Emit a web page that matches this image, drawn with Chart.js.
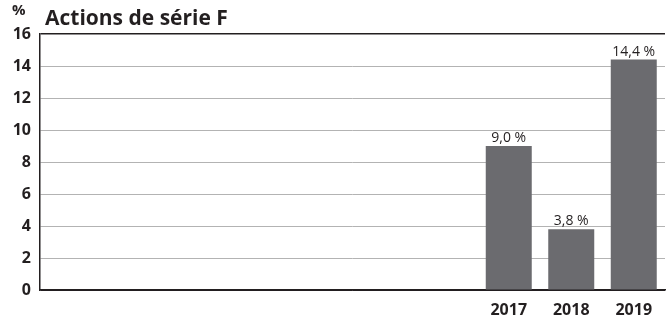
<!DOCTYPE html>
<html>
<head>
<meta charset="utf-8">
<script src="https://cdn.jsdelivr.net/npm/chart.js@4.4.0/dist/chart.umd.min.js"></script>
<style>
  html, body { margin: 0; padding: 0; background: #fff; }
  #wrap { width: 668px; height: 319px; position: relative; }
</style>
</head>
<body>
<div id="wrap"><canvas id="chart"></canvas></div>
<script>
// séries F, seules les 3 dernières années ont une valeur
const categories = ['', '', '', '', '', '', '', '2017', '2018', '2019'];
const values = [null, null, null, null, null, null, null, 9.0, 3.8, 14.4];
const yTicks = [0, 2, 4, 6, 8, 10, 12, 14, 16];

const FONT = '"Open Sans", "Noto Sans", sans-serif';
const DARK = '#231f20';

const fmt = v => v.toFixed(1).replace('.', ',') + ' %';

const overlay = {
    id: 'overlay',
    afterDatasetsDraw(chart) {
        const { ctx, chartArea } = chart;
        const meta = chart.getDatasetMeta(0);
        ctx.save();
        ctx.fillStyle = DARK;
        ctx.textAlign = 'center';
        ctx.textBaseline = 'bottom';
        ctx.font = '14px ' + FONT;
        meta.data.forEach((bar, i) => {
            if (values[i] == null) return;
            ctx.fillText(fmt(values[i]), bar.x, bar.y - 1);
        });
        // titre et unité
        ctx.textAlign = 'left';
        ctx.textBaseline = 'alphabetic';
        ctx.font = 'bold 21px ' + FONT;
        ctx.fillText('Actions de série F', chartArea.left + 5, 25);
        ctx.font = 'bold 15px ' + FONT;
        ctx.fillText('%', 12, 15);
        ctx.restore();
    }
};

new Chart(document.getElementById('chart'), {
    type: 'bar',
    data: {
        labels: categories,
        datasets: [{
            data: values,
            backgroundColor: '#6b6b6f',
            barPercentage: 0.736,
            categoryPercentage: 1
        }]
    },
    options: {
        responsive: true,
        maintainAspectRatio: false,
        animation: false,
        layout: { padding: { top: 34, right: 3, left: 0, bottom: 0 } },
        plugins: { legend: { display: false }, tooltip: { enabled: false } },
        scales: {
            x: {
                grid: { display: false },
                border: { color: DARK, width: 1.5 },
                afterFit: axis => { axis.height = 29; },
                ticks: { color: DARK, font: { family: FONT, size: 16, weight: 'bold' }, padding: 3, maxRotation: 0, autoSkip: false }
            },
            y: {
                min: 0,
                max: 16,
                afterBuildTicks: axis => { axis.ticks = yTicks.map(v => ({ value: v })); },
                afterFit: axis => { axis.width = 40; },
                grid: {
                    color: c => (c.tick.value === 16 || c.tick.value === 0) ? DARK : '#b3b3b3',
                    lineWidth: c => (c.tick.value === 16 ? 1.5 : 1),
                    drawTicks: false
                },
                border: { color: DARK, width: 1.5 },
                ticks: { color: DARK, font: { family: FONT, size: 16, weight: 'bold' }, padding: 9 }
            }
        }
    },
    plugins: [overlay]
});
</script>
</body>
</html>
